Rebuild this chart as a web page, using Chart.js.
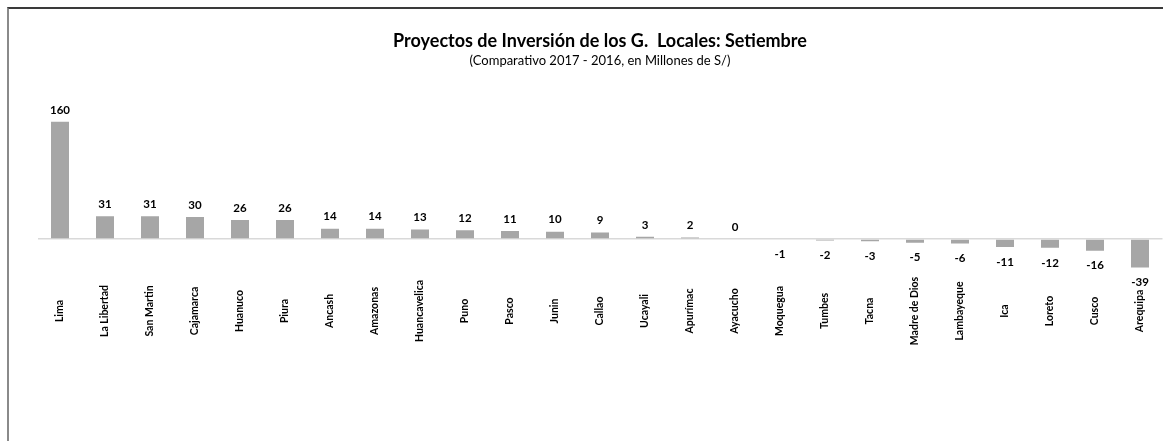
<!DOCTYPE html>
<html lang="es">
<head>
    <meta charset="UTF-8">
    <title>Proyectos de Inversión de los G. Locales: Setiembre</title>
    <script src="https://cdn.jsdelivr.net/npm/chart.js"></script>
    <style>
        html, body { margin: 0; padding: 0; background: #fff; }
        #wrap { position: relative; width: 1163px; height: 441px; overflow: hidden; }
        #frame { position: absolute; left: 7px; top: 7px; right: -10px; bottom: -10px;
                 border-top: 2px solid #3a3a3a; border-left: 2px solid #8a8a8a; }
        canvas { position: absolute; left: 0; top: 0; }
    </style>
</head>
<body>
    <div id="wrap">
        <div id="frame"></div>
        <canvas id="chart" width="1163" height="441"></canvas>
    </div>
    <script>
        const regiones = ['Lima', 'La Libertad', 'San Martin', 'Cajamarca', 'Huanuco', 'Piura', 'Ancash',
            'Amazonas', 'Huancavelica', 'Puno', 'Pasco', 'Junin', 'Callao', 'Ucayali', 'Apurímac',
            'Ayacucho', 'Moquegua', 'Tumbes', 'Tacna', 'Madre de Dios', 'Lambayeque', 'Ica',
            'Loreto', 'Cusco', 'Arequipa'];
        const variacion = [160, 31, 31, 30, 26, 26, 14, 14, 13, 12, 11, 10, 9, 3, 2, 0,
            -1, -2, -3, -5, -6, -11, -12, -16, -39];

        const FONT = 'Lato, "Liberation Sans", sans-serif';

        // value above positive bars, below negative ones
        const valueLabels = {
            id: 'valueLabels',
            afterDatasetsDraw(chart) {
                const ctx = chart.ctx;
                const meta = chart.getDatasetMeta(0);
                ctx.save();
                ctx.font = 'bold 11.5px ' + FONT;
                ctx.fillStyle = '#000';
                ctx.textAlign = 'center';
                ctx.textBaseline = 'middle';
                meta.data.forEach((bar, i) => {
                    const v = variacion[i];
                    const y = v >= 0 ? bar.y - 12 : bar.y + 15;
                    ctx.fillText(String(v), bar.x, y);
                });
                ctx.restore();
            }
        };

        // vertical region names, centred on a common line under the bars
        const regionLabels = {
            id: 'regionLabels',
            afterDraw(chart) {
                const ctx = chart.ctx;
                const xs = chart.scales.x;
                ctx.save();
                ctx.font = 'bold 10.5px ' + FONT;
                ctx.fillStyle = '#000';
                ctx.textAlign = 'center';
                ctx.textBaseline = 'middle';
                regiones.forEach((r, i) => {
                    ctx.save();
                    ctx.translate(xs.getPixelForValue(i), 311);
                    ctx.rotate(-Math.PI / 2);
                    ctx.fillText(r, 0, 0);
                    ctx.restore();
                });
                ctx.restore();
            }
        };

        new Chart(document.getElementById('chart'), {
            type: 'bar',
            data: {
                labels: regiones,
                datasets: [{
                    data: variacion,
                    backgroundColor: '#a6a6a6',
                    borderWidth: 0,
                    barPercentage: 0.4,
                    categoryPercentage: 1
                }]
            },
            options: {
                responsive: false,
                animation: false,
                layout: { padding: { left: 37.5, right: 0.5, top: 0, bottom: 158 } },
                scales: {
                    x: { display: false },
                    y: {
                        min: -60, max: 180,
                        ticks: { display: false, stepSize: 20 },
                        border: { display: false },
                        grid: {
                            drawTicks: false,
                            lineWidth: 1.5,
                            color: c => c.tick && c.tick.value === 0 ? '#d9d9d9' : 'rgba(0,0,0,0)'
                        }
                    }
                },
                plugins: {
                    legend: { display: false },
                    tooltip: { enabled: false },
                    title: {
                        display: true,
                        text: 'Proyectos de Inversión de los G.  Locales: Setiembre',
                        color: '#000',
                        font: { family: FONT, size: 18, weight: 'bold', lineHeight: 1.2 },
                        padding: { top: 30, bottom: 0 }
                    },
                    subtitle: {
                        display: true,
                        text: '(Comparativo 2017 - 2016, en Millones de S/)',
                        color: '#000',
                        font: { family: FONT, size: 13, lineHeight: 1.2 },
                        padding: { top: 1, bottom: 39 }
                    }
                }
            },
            plugins: [valueLabels, regionLabels]
        });
    </script>
</body>
</html>
